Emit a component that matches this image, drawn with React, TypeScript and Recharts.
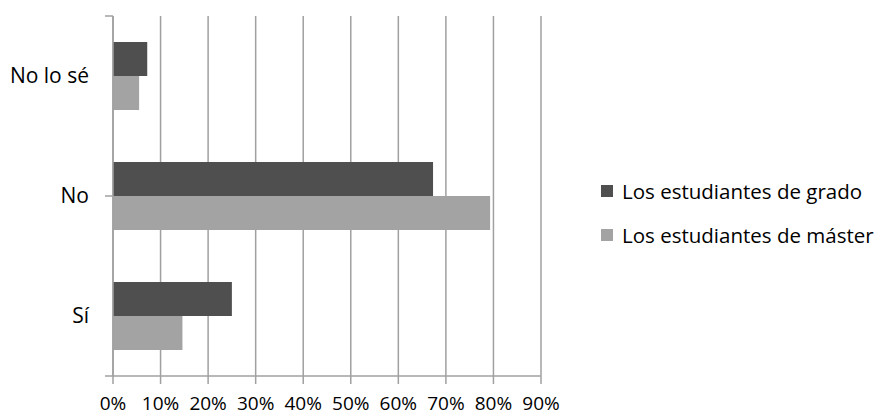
import { BarChart, Bar, XAxis, YAxis, CartesianGrid, Legend } from 'recharts';

const categories = ['No lo sé', 'No', 'Sí'];
const grado = [7.2, 67.3, 25.0];
const master = [5.5, 79.3, 14.6];
const xTicks = [0, 10, 20, 30, 40, 50, 60, 70, 80, 90];

const DARK = '#4f4f4f';
const LIGHT = '#a3a3a3';
const AXIS = '#a0a0a0';
const FONT = '"Open Sans", sans-serif';

const data = categories.map((name, i) => ({ name, grado: grado[i], master: master[i] }));

const renderLegend = (props: any) => {
  const { payload } = props;
  return (
    <div style={{ fontFamily: FONT, fontSize: 20.5, color: '#000' }}>
      {payload.map((p: any) => (
        <div key={p.value} style={{ display: 'flex', alignItems: 'center', height: 44 }}>
          <span style={{ width: 12, height: 12, background: p.color, marginRight: 9, display: 'inline-block' }} />
          <span>{p.value}</span>
        </div>
      ))}
    </div>
  );
};

export default function App() {
  return (
    <div style={{ position: 'absolute', left: 0, top: 0, background: '#fff' }}>
      <BarChart
        width={881}
        height={418}
        data={data}
        layout="vertical"
        margin={{ top: 16, right: 340, left: 0, bottom: 0 }}
        barCategoryGap={26}
        barGap={0}
      >
        <CartesianGrid horizontal={false} stroke={AXIS} strokeWidth={1.5} />
        <XAxis
          type="number"
          domain={[0, 90]}
          ticks={xTicks}
          interval={0}
          tickFormatter={(v) => `${v}%`}
          height={42}
          tickSize={8}
          tickMargin={13}
          stroke={AXIS}
          strokeWidth={1.5}
          tick={{ fill: '#000', fontSize: 19, fontFamily: FONT }}
        />
        <YAxis
          yAxisId="a_edge"
          type="number"
          domain={[0, 3]}
          ticks={[0, 1, 2, 3]}
          interval={0}
          width={8}
          tickSize={8}
          tickMargin={0}
          stroke={AXIS}
          strokeWidth={1.5}
          tickFormatter={() => ''}
        />
        <YAxis
          yAxisId="b_cat"
          type="category"
          dataKey="name"
          width={105}
          axisLine={false}
          tickLine={false}
          tickSize={0}
          tickMargin={16}
          tick={{ fill: '#000', fontSize: 21, fontFamily: FONT }}
        />
        <Legend
          layout="vertical"
          align="center"
          verticalAlign="middle"
          content={renderLegend}
          wrapperStyle={{ left: 601, top: 169, width: 280 }}
        />
        <Bar yAxisId="b_cat" dataKey="grado" name="Los estudiantes de grado" fill={DARK} isAnimationActive={false} />
        <Bar yAxisId="b_cat" dataKey="master" name="Los estudiantes de máster" fill={LIGHT} isAnimationActive={false} />
      </BarChart>
    </div>
  );
}
